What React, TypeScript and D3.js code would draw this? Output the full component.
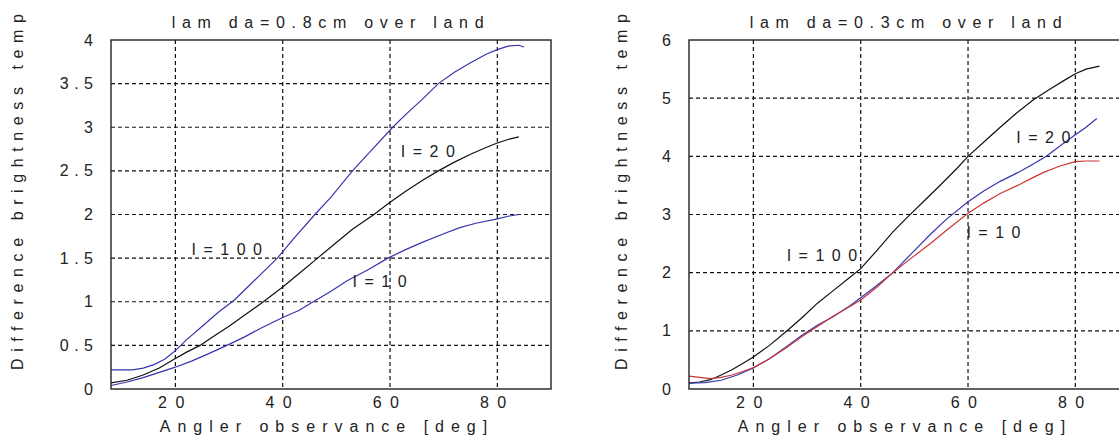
import React, { useEffect, useRef } from "react";
import * as d3 from "d3";

// angle [deg] , difference brightness temp
const leftI100: [number, number][] = [
  [8, 0.22], [12, 0.22], [14, 0.24], [16, 0.28], [18, 0.34], [20, 0.44], [22, 0.56], [25, 0.72],
  [28, 0.88], [31, 1.02], [34, 1.2], [37, 1.38], [39, 1.5], [42, 1.72], [46, 2.0], [49, 2.2],
  [53, 2.5], [56, 2.7], [60.5, 3.0], [63, 3.15], [66, 3.32], [69, 3.5], [72, 3.63], [75, 3.74],
  [78, 3.84], [80, 3.89], [82, 3.93], [84, 3.94], [85, 3.92],
];
const leftI20: [number, number][] = [
  [8, 0.07], [11, 0.1], [14, 0.16], [17, 0.24], [20, 0.35], [22, 0.42], [24.6, 0.5], [27, 0.6],
  [30, 0.72], [33, 0.85], [36.4, 1.0], [40, 1.17], [43, 1.32], [46.5, 1.5], [50, 1.68], [53, 1.83],
  [57, 2.0], [60, 2.14], [63, 2.27], [66, 2.39], [69, 2.5], [72, 2.6], [75, 2.69], [78, 2.77],
  [80, 2.82], [82, 2.86], [84, 2.89],
];
const leftI10: [number, number][] = [
  [8, 0.04], [11, 0.08], [14, 0.13], [17, 0.19], [20, 0.25], [23, 0.32], [26, 0.4], [29.6, 0.5],
  [33, 0.6], [36, 0.7], [38, 0.76], [40, 0.82], [43, 0.9], [45.7, 1.0], [49, 1.12], [52, 1.24],
  [56, 1.37], [59.6, 1.5], [63, 1.6], [66, 1.68], [70, 1.78], [73, 1.85], [76, 1.9], [80, 1.95],
  [82, 1.98], [84, 2.0],
];

const rightI100: [number, number][] = [
  [8, 0.1], [10, 0.12], [12, 0.16], [14, 0.24], [16, 0.33], [18, 0.44], [20, 0.55], [23, 0.75],
  [26, 0.98], [29, 1.22], [32, 1.48], [35, 1.7], [38, 1.92], [40, 2.07], [43, 2.38], [46, 2.7],
  [49, 2.98], [52, 3.25], [55, 3.52], [58, 3.8], [60, 4.0], [63, 4.25], [66, 4.5], [69, 4.74],
  [72, 4.96], [75, 5.14], [78, 5.31], [80, 5.42], [82, 5.5], [84.5, 5.55],
];
const rightI20: [number, number][] = [
  [8, 0.1], [11, 0.11], [14, 0.15], [17, 0.24], [20, 0.36], [23, 0.52], [26, 0.72], [29, 0.92],
  [32, 1.1], [35, 1.25], [38, 1.43], [40, 1.57], [43, 1.78], [46, 2.0], [50, 2.38], [53, 2.66],
  [56, 2.92], [60, 3.22], [63, 3.41], [66, 3.57], [69.7, 3.74], [72, 3.86], [74.6, 4.0], [77, 4.17],
  [80, 4.37], [82, 4.5], [84, 4.65],
];
const rightI10: [number, number][] = [
  [8, 0.22], [10, 0.2], [12, 0.18], [14, 0.2], [16, 0.24], [18, 0.3], [20, 0.37], [23, 0.52],
  [26, 0.7], [29, 0.9], [32, 1.08], [35, 1.26], [38, 1.42], [40, 1.53], [43, 1.75], [46, 2.0],
  [49, 2.22], [53, 2.5], [56, 2.73], [60, 3.02], [63, 3.2], [66, 3.36], [69.7, 3.52], [72, 3.63],
  [74, 3.72], [77, 3.83], [80, 3.91], [82, 3.92], [84.5, 3.92],
];

const xTicks = [20, 40, 60, 80];
const leftYTicks = [0, 0.5, 1, 1.5, 2, 2.5, 3, 3.5, 4];
const rightYTicks = [0, 1, 2, 3, 4, 5, 6];

const BLUE = "#3535ad";
const RED = "#c93636";
const BLACK = "#111";
const FONT = "'Liberation Sans', Arial, sans-serif";

const panels = [
  {
    title: "lam da=0.8cm over land",
    x0: 111,
    yMax: 4,
    yTicks: leftYTicks,
    series: [
      { data: leftI10, color: BLUE },
      { data: leftI20, color: BLACK },
      { data: leftI100, color: BLUE },
    ],
    labels: [
      { text: "I=100", at: [23, 1.6] },
      { text: "I=20", at: [62, 2.72] },
      { text: "I=10", at: [53, 1.23] },
    ],
    yLabelX: 23,
  },
  {
    title: "lam da=0.3cm over land",
    x0: 689,
    yMax: 6,
    yTicks: rightYTicks,
    series: [
      { data: rightI100, color: BLACK },
      { data: rightI20, color: BLUE },
      { data: rightI10, color: RED },
    ],
    labels: [
      { text: "I=100", at: [26.2, 2.3] },
      { text: "I=20", at: [69, 4.33] },
      { text: "I=10", at: [59.7, 2.7] },
    ],
    yLabelX: 627,
  },
];

const App = () => {
  const svgRef = useRef<SVGSVGElement>(null);

  useEffect(() => {
    const svg = d3.select(svgRef.current);
    svg.selectAll("*").remove();

    const top = 40, bottom = 389, plotW = 440;
    const fs = "16px";

    panels.forEach((p) => {
      const x = d3.scaleLinear().domain([8, 90]).range([p.x0, p.x0 + plotW]);
      const y = d3.scaleLinear().domain([0, p.yMax]).range([bottom, top]);
      const g = svg.append("g");

      g.append("rect")
        .attr("x", p.x0).attr("y", top)
        .attr("width", plotW).attr("height", bottom - top)
        .attr("fill", "#fff");

      // grille pointillée
      g.selectAll(".vgrid").data(xTicks).join("line")
        .attr("x1", (d) => x(d)).attr("x2", (d) => x(d))
        .attr("y1", top).attr("y2", bottom)
        .attr("stroke", "#111").attr("stroke-width", 1.2)
        .attr("stroke-dasharray", "4,3");
      g.selectAll(".hgrid").data(p.yTicks.filter((t) => t > 0 && t < p.yMax)).join("line")
        .attr("x1", p.x0).attr("x2", p.x0 + plotW)
        .attr("y1", (d) => y(d)).attr("y2", (d) => y(d))
        .attr("stroke", "#111").attr("stroke-width", 1.2)
        .attr("stroke-dasharray", "4,3");

      const line = d3.line<[number, number]>()
        .x((d) => x(d[0]))
        .y((d) => y(d[1]));

      p.series.forEach((s) => {
        g.append("path")
          .datum(s.data)
          .attr("fill", "none")
          .attr("stroke", s.color)
          .attr("stroke-width", 1.2)
          .attr("d", line);
      });

      g.append("rect")
        .attr("x", p.x0).attr("y", top)
        .attr("width", plotW).attr("height", bottom - top)
        .attr("fill", "none").attr("stroke", "#222").attr("stroke-width", 1.4);

      // textes des courbes
      p.labels.forEach((l) => {
        g.append("text")
          .attr("x", x(l.at[0])).attr("y", y(l.at[1]))
          .attr("dy", "0.35em")
          .style("font-family", FONT).style("font-size", fs)
          .style("letter-spacing", "7.5px").attr("fill", "#222")
          .text(l.text);
      });

      // axes
      g.selectAll(".xt").data(xTicks).join("text")
        .attr("x", (d) => x(d)).attr("y", 408)
        .attr("text-anchor", "middle")
        .style("font-family", FONT).style("font-size", fs)
        .style("letter-spacing", "8.4px").attr("fill", "#222")
        .text((d) => String(d));

      g.selectAll(".yt").data(p.yTicks).join("text")
        .attr("x", p.x0 - 18 + 5.5).attr("y", (d) => y(d))
        .attr("dy", "0.35em")
        .attr("text-anchor", "end")
        .style("font-family", FONT).style("font-size", fs)
        .style("letter-spacing", "5.5px").attr("fill", "#222")
        .text((d) => String(d));

      g.append("text")
        .attr("x", p.x0 + plotW / 2).attr("y", 28)
        .attr("text-anchor", "middle")
        .style("font-family", FONT).style("font-size", fs)
        .style("letter-spacing", "6.7px").attr("fill", "#222")
        .text(p.title);

      g.append("text")
        .attr("x", p.x0 + plotW / 2 - 4).attr("y", 432)
        .attr("text-anchor", "middle")
        .style("font-family", FONT).style("font-size", fs)
        .style("letter-spacing", "7px").attr("fill", "#222")
        .text("Angler observance [deg]");

      g.append("text")
        .attr("transform", `translate(${p.yLabelX},370) rotate(-90)`)
        .attr("text-anchor", "start")
        .style("font-family", FONT).style("font-size", fs)
        .style("letter-spacing", "6.6px").attr("fill", "#222")
        .text("Difference brightness temp");
    });
  }, []);

  return (
    <svg
      ref={svgRef}
      width="1119"
      height="437"
      style={{ position: "absolute", left: 0, top: 0, background: "#fff" }}
    ></svg>
  );
};

export default App;
